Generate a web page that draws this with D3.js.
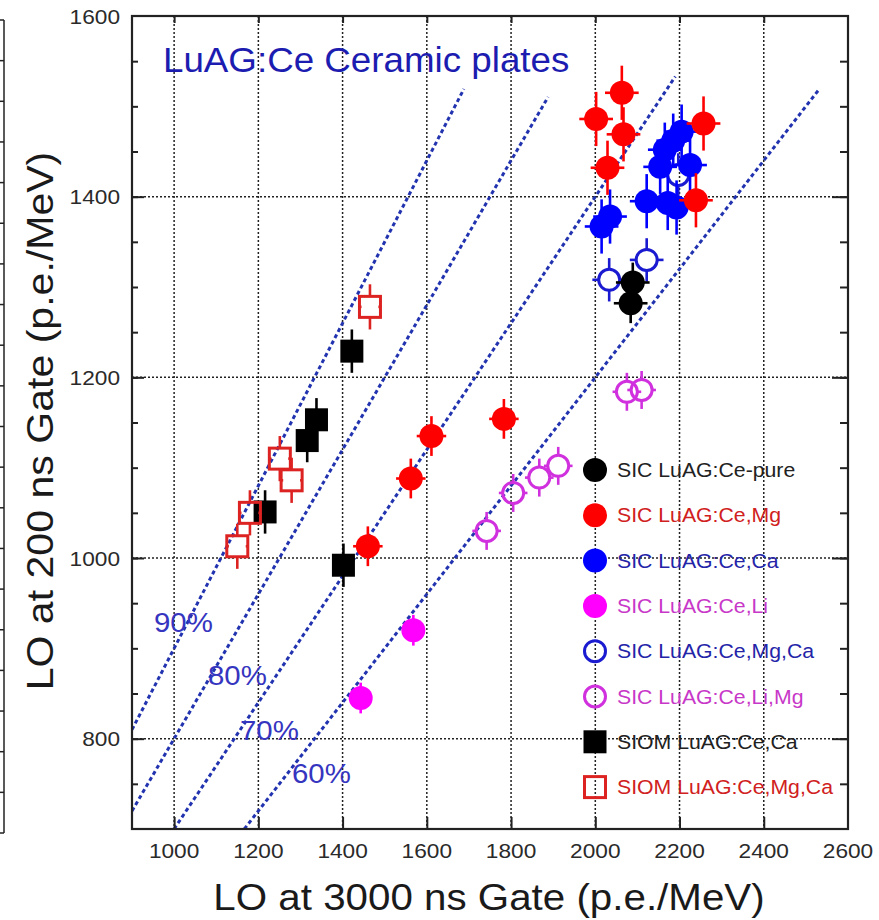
<!DOCTYPE html>
<html>
<head>
<meta charset="utf-8">
<script src="https://cdn.jsdelivr.net/npm/d3@7"></script>
<style>
  html, body { margin: 0; padding: 0; background: #fff; }
  svg { display: block; font-family: "Liberation Sans", Arial, sans-serif; }
</style>
</head>
<body>
<svg id="chart" width="879" height="920"></svg>
<script>
// ---- data: [LO 3000 ns, LO 200 ns, err x, err y] (p.e./MeV) ----
const sicMgCa   = [[2033,1308,40,24],[2122,1330,40,24],[2197,1424,40,24]];
const sicCa     = [[2015,1367,40,30],[2035,1378,40,30],[2122,1395,40,30],[2172,1393,40,30],
                   [2193,1388,40,30],[2154,1433,40,30],[2225,1435,40,30],[2165,1452,40,30],
                   [2185,1462,40,30],[2205,1472,40,30]];
const sicMg     = [[2063,1515,40,30],[2002,1486,40,30],[2067,1469,40,30],[2029,1432,40,30],
                   [2257,1481,40,30],[2239,1396,40,30],[1783,1154,35,22],[1611,1135,35,22],
                   [1562,1088,35,22],[1460,1013,35,22]];
const sicPure   = [[2089,1305,40,22],[2084,1282,40,22]];
const sicLi     = [[1568,920,25,17],[1443,845,25,17]];
const sicLiMg   = [[1742,1030,34,21],[1805,1072,34,21],[1867,1089,34,21],[1912,1102,34,21],
                   [2075,1184,34,21],[2110,1186,34,21]];
const siomCa    = [[1422,1229,20,24],[1338,1153,20,24],[1316,1130,20,24],[1216,1051,20,24],
                   [1402,992,20,24]];
const siomMgCa  = [[1465,1278,20,25],[1251,1110,20,25],[1279,1086,20,25],[1180,1050,20,25],
                   [1150,1013,20,25]];

const legendLabels = ["SIC LuAG:Ce-pure","SIC LuAG:Ce,Mg","SIC LuAG:Ce,Ca","SIC LuAG:Ce,Li",
                      "SIC LuAG:Ce,Mg,Ca","SIC LuAG:Ce,Li,Mg","SIOM LuAG:Ce,Ca","SIOM LuAG:Ce,Mg,Ca"];

// ratio lines LO(200)/LO(3000) and the x where each one stops
const ratios     = [0.9, 0.8, 0.7, 0.6];
const ratioEnds  = [1688, 1888, 2190, 2530];
const ratioNames = ["90%", "80%", "70%", "60%"];

const xTickValues = [1000,1200,1400,1600,1800,2000,2200,2400,2600];
const yTickValues = [800,1000,1200,1400,1600];
const xGrid = [1000,1200,1400,1600,1800,2000,2200,2400];
const yGrid = [800,1000,1200,1400];
const yMinor = d3.range(750, 1600, 50);

// ---- layout ----
const svg = d3.select("#chart");
const L = 132, R = 848, T = 16, B = 829;
const x = d3.scaleLinear().domain([900, 2600]).range([L, R]);
const y = d3.scaleLinear().domain([700, 1600]).range([B, T]);

// neighbouring panel edge on the far left
const edge = svg.append("g").attr("stroke", "#222").attr("stroke-width", 1.5);
edge.append("line").attr("x1", 4).attr("x2", 4).attr("y1", 20).attr("y2", 833);
d3.range(0, 21).forEach(i => {
  const yy = 20 + i * (813 / 20);
  edge.append("line").attr("x1", 0).attr("x2", 4).attr("y1", yy).attr("y2", yy);
});

// grid
const grid = svg.append("g").attr("stroke", "#222").attr("stroke-width", 1.5)
  .attr("stroke-dasharray", "2,2");
grid.selectAll(".gx").data(xGrid).join("line")
  .attr("x1", d => x(d)).attr("x2", d => x(d)).attr("y1", T).attr("y2", B);
grid.selectAll(".gy").data(yGrid).join("line")
  .attr("x1", L).attr("x2", R).attr("y1", d => y(d)).attr("y2", d => y(d));

// ratio lines
const clipId = "plotclip";
svg.append("clipPath").attr("id", clipId).append("rect")
  .attr("x", L).attr("y", T).attr("width", R - L).attr("height", B - T);
const rl = svg.append("g").attr("clip-path", `url(#${clipId})`);
ratios.forEach((r, i) => {
  const x0 = Math.max(900, 700 / r);
  const x1 = ratioEnds[i];
  rl.append("line")
    .attr("x1", x(x0)).attr("y1", y(r * x0))
    .attr("x2", x(x1)).attr("y2", y(r * x1))
    .attr("stroke", "#2233b0").attr("stroke-width", 3)
    .attr("stroke-dasharray", "4,3");
});

// axes (inward ticks)
const axG = svg.append("g");
axG.append("g").attr("transform", `translate(0,${B})`)
  .call(d3.axisTop(x).tickValues(xGrid).tickSize(12).tickFormat(""));
axG.append("g").attr("transform", `translate(0,${T})`)
  .call(d3.axisBottom(x).tickValues(xGrid).tickSize(7).tickFormat(""));
axG.append("g").attr("transform", `translate(${L},0)`)
  .call(d3.axisRight(y).tickValues(yMinor).tickSize(6).tickFormat(""));
axG.append("g").attr("transform", `translate(${L},0)`)
  .call(d3.axisRight(y).tickValues(yGrid).tickSize(12).tickFormat(""));
axG.append("g").attr("transform", `translate(${R},0)`)
  .call(d3.axisLeft(y).tickValues(yMinor).tickSize(8).tickFormat(""));
axG.append("g").attr("transform", `translate(${R},0)`)
  .call(d3.axisLeft(y).tickValues(yGrid).tickSize(16).tickFormat(""));
axG.selectAll(".domain").remove();
axG.selectAll(".tick line").attr("stroke", "#222").attr("stroke-width", 2);

svg.append("rect").attr("x", L).attr("y", T).attr("width", R - L).attr("height", B - T)
  .attr("fill", "none").attr("stroke", "#222").attr("stroke-width", 2.2);

// tick labels
svg.append("g").selectAll("text").data(xTickValues).join("text")
  .attr("transform", d => `translate(${x(d)},858) scale(1.08,1)`)
  .attr("text-anchor", "middle").attr("font-size", 21).attr("fill", "#2a2a2a")
  .text(d => d);
svg.append("g").selectAll("text").data(yTickValues).join("text")
  .attr("transform", d => `translate(120,${y(d) + 7.5}) scale(1.08,1)`)
  .attr("text-anchor", "end").attr("font-size", 21).attr("fill", "#2a2a2a")
  .text(d => d);

// axis titles
svg.append("text").attr("transform", "translate(489,910) scale(1.09,1)")
  .attr("text-anchor", "middle").attr("font-size", 37).attr("fill", "#1a1a1a")
  .text("LO at 3000 ns Gate (p.e./MeV)");
svg.append("text").attr("transform", "translate(53,421) rotate(-90) scale(1.11,1)")
  .attr("text-anchor", "middle").attr("font-size", 37).attr("fill", "#1a1a1a")
  .text("LO at 200 ns Gate (p.e./MeV)");

// plot title
svg.append("text").attr("transform", "translate(163,72) scale(1.05,1)")
  .attr("font-size", 35).attr("fill", "#1c1cb0")
  .text("LuAG:Ce Ceramic plates");

// ratio labels
const pctPos = [[154,632],[208,685],[240,740],[292,783]];
ratioNames.forEach((t, i) => {
  svg.append("text").attr("transform", `translate(${pctPos[i][0]},${pctPos[i][1]}) scale(1.09,1)`)
    .attr("font-size", 27).attr("fill", "#3535c0").text(t);
});

// ---- markers ----
const series = [
  { data: sicMgCa,  color: "#1a1ad0", shape: "circle", filled: false, leg: 4 },
  { data: sicCa,    color: "#0000ff", shape: "circle", filled: true,  leg: 2 },
  { data: sicMg,    color: "#ff0000", shape: "circle", filled: true,  leg: 1 },
  { data: sicPure,  color: "#000000", shape: "circle", filled: true,  leg: 0 },
  { data: sicLi,    color: "#ff00ff", shape: "circle", filled: true,  leg: 3 },
  { data: sicLiMg,  color: "#d030dd", shape: "circle", filled: false, leg: 5 },
  { data: siomCa,   color: "#000000", shape: "square", filled: true,  leg: 6 },
  { data: siomMgCa, color: "#dd2222", shape: "square", filled: false, leg: 7 }
];
const legendText = ["#222", "#d02020", "#2424a8", "#c838c8", "#2424a8", "#c838c8", "#222", "#d02020"];

function markerHalf(s) {
  if (s.shape === "circle") return s.filled ? 12 : 10.5;
  return s.filled ? 11.5 : 10.5;
}

function drawMarker(g, cx, cy, s) {
  const h = markerHalf(s);
  if (s.shape === "circle") {
    g.append("circle").attr("cx", cx).attr("cy", cy).attr("r", h)
      .attr("fill", s.filled ? s.color : "none")
      .attr("stroke", s.color).attr("stroke-width", s.filled ? 0 : 3);
  } else {
    g.append("rect").attr("x", cx - h).attr("y", cy - h).attr("width", 2 * h).attr("height", 2 * h)
      .attr("fill", s.filled ? s.color : "none")
      .attr("stroke", s.color).attr("stroke-width", s.filled ? 0 : 3);
  }
}

function seg(g, x1, y1, x2, y2, c) {
  g.append("line").attr("x1", x1).attr("y1", y1).attr("x2", x2).attr("y2", y2)
    .attr("stroke", c).attr("stroke-width", 2.6);
}

const marks = svg.append("g");
series.forEach(s => {
  const g = marks.append("g");
  // hollow symbols keep their error bars outside the outline
  const gap = s.filled ? 0 : markerHalf(s);
  s.data.forEach(([vx, vy, ex, ey]) => {
    const cx = x(vx), cy = y(vy);
    seg(g, x(vx - ex), cy, cx - gap, cy, s.color);
    seg(g, cx + gap, cy, x(vx + ex), cy, s.color);
    seg(g, cx, y(vy + ey), cx, cy - gap, s.color);
    seg(g, cx, cy + gap, cx, y(vy - ey), s.color);
    drawMarker(g, cx, cy, s);
  });
});

// ---- legend ----
const leg = svg.append("g");
series.slice().sort((a, b) => a.leg - b.leg).forEach((s, i) => {
  const cy = 470 + i * 45.3;
  drawMarker(leg, 595, cy, s);
  leg.append("text").attr("transform", `translate(617,${cy + 7}) scale(1.09,1)`)
    .attr("font-size", 19.5).attr("fill", legendText[i]).text(legendLabels[i]);
});
</script>
</body>
</html>
